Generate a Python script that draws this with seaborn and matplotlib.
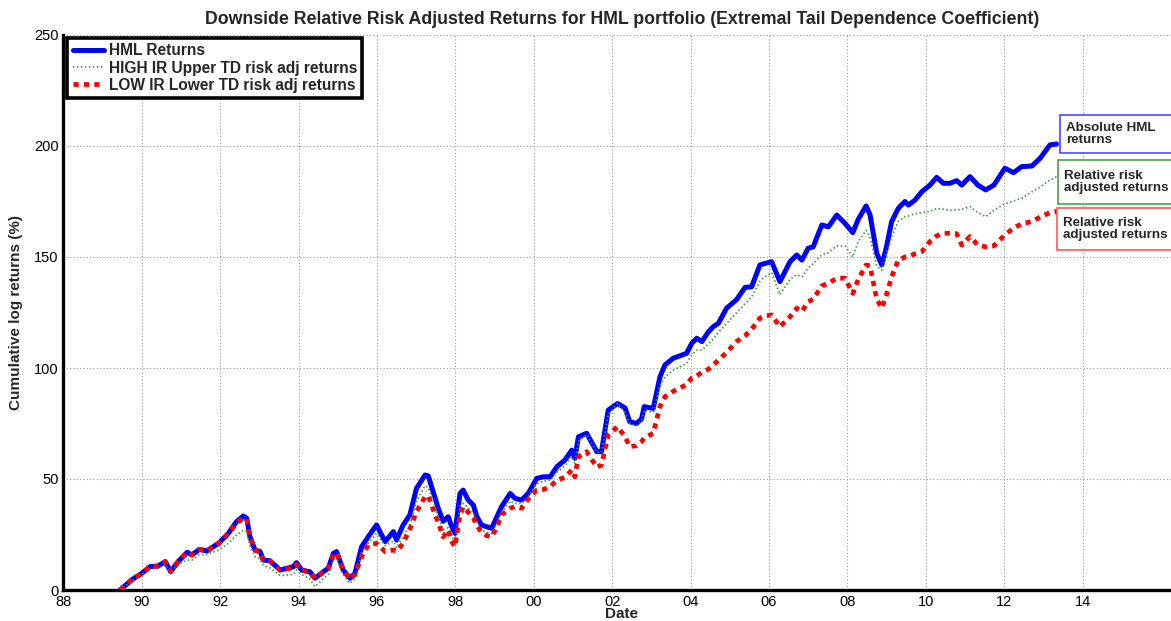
import matplotlib
matplotlib.use("Agg")
import matplotlib.pyplot as plt
from matplotlib.patches import Rectangle
import seaborn as sns
import pandas as pd

# ---------------- data ----------------
dates = [1989.45, 1989.74, 1990.00, 1990.21, 1990.42, 1990.60, 1990.74, 1990.93, 1991.16, 1991.28,
         1991.47, 1991.66, 1991.96, 1992.21, 1992.42, 1992.59, 1992.68, 1992.76, 1992.89, 1993.02,
         1993.10, 1993.27, 1993.53, 1993.87, 1993.95, 1994.08, 1994.29, 1994.42, 1994.63, 1994.76,
         1994.89, 1994.97, 1995.14, 1995.31, 1995.44, 1995.61, 1995.78, 1995.99, 1996.21, 1996.42,
         1996.50, 1996.67, 1996.84, 1997.01, 1997.23, 1997.31, 1997.44, 1997.57, 1997.69, 1997.82,
         1997.90, 1997.99, 1998.12, 1998.20, 1998.33, 1998.46, 1998.55, 1998.67, 1998.80, 1998.93,
         1999.06, 1999.18, 1999.40, 1999.52, 1999.69, 1999.86, 2000.08, 2000.25, 2000.42, 2000.59,
         2000.80, 2000.97, 2001.05, 2001.14, 2001.35, 2001.61, 2001.73, 2001.90, 2002.14, 2002.33,
         2002.45, 2002.62, 2002.75, 2002.82, 2003.05, 2003.22, 2003.35, 2003.56, 2003.90, 2004.03,
         2004.16, 2004.29, 2004.46, 2004.58, 2004.71, 2004.92, 2005.18, 2005.39, 2005.56, 2005.77,
         2005.90, 2006.07, 2006.28, 2006.54, 2006.71, 2006.84, 2007.00, 2007.13, 2007.35, 2007.52,
         2007.73, 2007.94, 2008.14, 2008.28, 2008.48, 2008.58, 2008.75, 2008.88, 2009.00, 2009.13,
         2009.30, 2009.47, 2009.56, 2009.73, 2009.90, 2010.11, 2010.28, 2010.45, 2010.62, 2010.79,
         2010.92, 2011.13, 2011.33, 2011.53, 2011.74, 2012.02, 2012.24, 2012.45, 2012.71, 2012.92,
         2013.17, 2013.34]

hml_returns = [0, 4.5, 7.5, 10.5, 10.8, 12.8, 8.3, 12.8, 17, 15.8,
               18.3, 17.6, 21, 25.5, 30.8, 33.3, 32.3, 24, 18, 17.3,
               13.5, 13.2, 9, 10.5, 12.3, 9, 8.2, 5.3, 8.2, 9.8,
               16.5, 17.3, 9, 5.3, 7.5, 19.5, 24, 29.3, 21.8, 26.3,
               22.5, 29.3, 33.8, 45.8, 51.8, 51.4, 44, 36.5, 31, 33,
               29, 25.5, 43.5, 45, 40.5, 38.3, 33, 29.3, 28.5, 27.8,
               33, 37.5, 43.5, 41.3, 40.5, 43.5, 50.3, 51, 51, 55.5,
               58.6, 63, 59.3, 69, 70.6, 62.3, 62.3, 81, 84, 82,
               75.8, 75, 77, 82.6, 81.8, 96, 101.4, 104.4, 106.6, 111.1,
               113.4, 111.9, 116.4, 118.6, 120.1, 126.9, 130.9, 136.3, 136.6, 146.4,
               147.1, 147.9, 138.9, 147.9, 150.9, 148.6, 153.9, 154.6, 164.4, 163.6,
               168.9, 165.2, 161, 167, 173, 169, 151.7, 146.4, 154.6, 165.9,
               171.9, 175, 173.4, 175.7, 179.4, 182.4, 185.9, 183.2, 183.2, 184.4,
               182.4, 186.2, 182.4, 180.2, 182.4, 190, 188, 190.7, 191, 194.5,
               200.5, 200.9]

high_ir_upper = [0, 4, 7, 9.5, 10, 11.5, 8, 11.5, 13.5, 13.5,
                 15.8, 16, 18, 21, 24.8, 27, 26.5, 20, 15, 14,
                 11, 10, 6.5, 7, 9, 7, 5, 1.5, 5, 7,
                 14, 15, 7, 3, 5, 17, 21, 25.5, 20, 22,
                 19, 24, 29, 40, 47, 46, 40, 33, 27, 28,
                 25, 21, 38, 39, 37, 35, 31, 27, 26, 25.5,
                 30, 35, 40, 39, 39, 42, 48, 49, 49.5, 53,
                 56, 60, 57, 67, 70, 62, 62, 79, 84, 80,
                 75, 74, 76, 81, 80, 92, 96, 99, 102, 106,
                 108, 108, 111, 113, 116, 120, 125, 129, 132, 139,
                 141, 143, 133, 140, 142, 141, 145, 147, 151, 152,
                 155, 155, 150, 157, 162, 159, 146, 144, 152, 159,
                 166, 168.2, 168.5, 169.5, 170, 170.5, 171.9, 171.5, 171, 171.2,
                 171.5, 172.7, 170, 168.2, 171, 174, 175.2, 176.5, 179.4, 181.5,
                 184.7, 186.2]

low_ir_lower = [0, 4.5, 7.5, 10.5, 10.8, 12.8, 8.5, 12.8, 17, 15.8,
                18.3, 17.6, 21, 25.5, 30, 32.5, 32, 24, 18, 17.3,
                13.5, 13.2, 9, 10, 11.5, 9, 8, 5.3, 8, 9.5,
                16, 16.8, 9, 5, 7, 15, 20.3, 21, 17.3, 18,
                17.5, 21, 27.5, 35.3, 42, 42.5, 36, 30, 24, 27,
                22, 19.5, 33.8, 37.5, 35, 32.5, 29, 26, 24.5, 24,
                28.5, 33.8, 36.8, 37.5, 36.8, 41, 45, 45.3, 46.5, 49.5,
                50.8, 54, 51, 60, 62.3, 55.3, 56.3, 69.8, 73.6, 69,
                64.6, 65, 66.8, 68.5, 70.6, 82.6, 87.1, 89.5, 92.5, 95.5,
                96.5, 98, 99.5, 101.4, 103.5, 107, 112, 114.5, 117.5, 122.5,
                123.5, 123.9, 118.6, 123.1, 126.9, 125.4, 129.9, 131, 137, 138.2,
                140.4, 140.5, 133.6, 140, 146.4, 146, 131, 127, 133, 141.1,
                148.6, 150, 150.1, 151.5, 152.4, 157, 159.5, 160.7, 160.7, 160.5,
                155.4, 159.2, 155.4, 154.6, 155, 160, 163, 165, 166, 168,
                170, 170.5]

series_labels = ["HML Returns",
                 "HIGH IR Upper TD risk adj returns",
                 "LOW IR Lower TD risk adj returns"]
x_ticks = [1988, 1990, 1992, 1994, 1996, 1998, 2000, 2002, 2004, 2006, 2008, 2010, 2012, 2014]
x_tick_labels = ["88", "90", "92", "94", "96", "98", "00", "02", "04", "06", "08", "10", "12", "14"]
y_ticks = [0, 50, 100, 150, 200, 250]
box_texts = ["Absolute HML\nreturns", "Relative risk\nadjusted returns", "Relative risk\nadjusted returns"]

# ---------------- style ----------------
sns.set_style("white")
plt.rcParams["font.family"] = ["Liberation Sans", "DejaVu Sans"]

W, H = 1171, 621
fig = plt.figure(figsize=(W / 100, H / 100), dpi=100)
ax_left, ax_bottom, ax_w, ax_h = 63.3, 31, 1117, 555
ax = fig.add_axes([ax_left / W, ax_bottom / H, ax_w / W, ax_h / H])

df = pd.DataFrame({"date": dates, "hml": hml_returns, "high": high_ir_upper, "low": low_ir_lower})

sns.lineplot(data=df, x="date", y="hml", ax=ax, color="#0000ff", linewidth=3.6,
             label=series_labels[0], zorder=3)
sns.lineplot(data=df, x="date", y="high", ax=ax, color="#34a034", linewidth=1.3,
             linestyle=(0, (0.8, 1.4)), label=series_labels[1], zorder=4)
sns.lineplot(data=df, x="date", y="low", ax=ax, color="#ff0000", linewidth=3.4,
             linestyle=(0, (1.1, 1.1)), label=series_labels[2], zorder=5)

ax.set_xlim(1988, 1988 + ax_w / 39.2)
ax.set_ylim(0, 250)
ax.set_xticks(x_ticks)
ax.set_xticklabels(x_tick_labels)
ax.set_yticks(y_ticks)

ax.grid(True, linestyle=(0, (1, 2)), color="0.6", linewidth=0.8)
ax.set_axisbelow(True)

for s in ["top", "right"]:
    ax.spines[s].set_visible(False)
for s in ["left", "bottom"]:
    ax.spines[s].set_visible(True)
    ax.spines[s].set_color("black")
    ax.spines[s].set_linewidth(2.4)

ax.tick_params(axis="both", direction="in", length=7, width=2.2, colors="black",
               labelsize=10.5, pad=3.5)

ax.set_xlabel("Date", fontsize=11, fontweight="bold", labelpad=-1)
ax.set_ylabel("Cumulative log returns (%)", fontsize=11, fontweight="bold", labelpad=8)
ax.set_title("Downside Relative Risk Adjusted Returns for HML portfolio "
             "(Extremal Tail Dependence Coefficient)",
             fontsize=12.8, fontweight="bold", pad=8)

leg = ax.legend(loc="upper left", bbox_to_anchor=(4 / ax_w, 0.995), borderaxespad=0,
                frameon=True, fancybox=False, framealpha=1, edgecolor="black",
                prop={"weight": "bold", "size": 11.2}, handlelength=2.0,
                handletextpad=0.3, labelspacing=0.15, borderpad=0.35)
leg.get_frame().set_linewidth(2.6)

# annotation boxes at the right
boxes = [(1060, 115, 153, 1066, "#3c3cff"),
         (1058, 160, 204, 1064, "#3a9a3a"),
         (1057, 208, 250, 1063, "#ff4a4a")]
for (bx, top, bot, tx, col), txt in zip(boxes, box_texts):
    rect = Rectangle((bx / W, 1 - bot / H), 200 / W, (bot - top) / H,
                     transform=fig.transFigure, facecolor="white", edgecolor=col,
                     linewidth=1.1, zorder=10)
    fig.patches.append(rect)
    fig.text(tx / W, 1 - ((top + bot) / 2) / H, txt, fontsize=9.6, fontweight="bold",
             ha="left", va="center", linespacing=1.1, zorder=11)

fig.savefig("out.png", dpi=100)
